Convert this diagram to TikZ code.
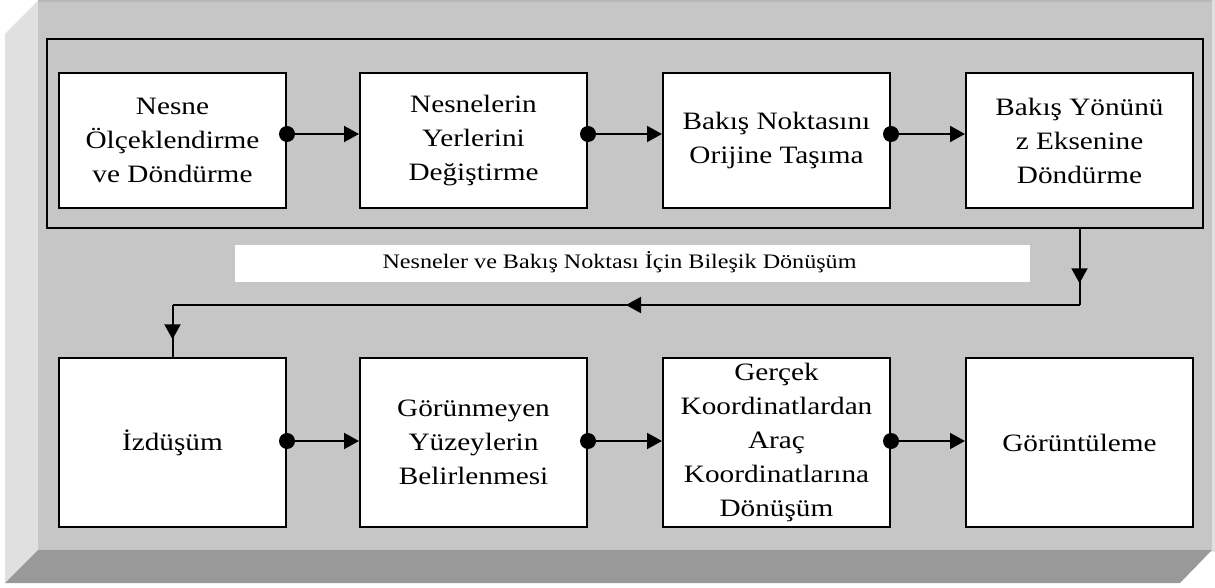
\documentclass[tikz,border=0pt]{standalone}
\usepackage{fontspec}
\setmainfont[FakeStretch=1.17]{Liberation Serif}
\usetikzlibrary{arrows.meta,decorations.markings}
\definecolor{frontgray}{RGB}{198,198,198}
\definecolor{sidegray}{RGB}{224,224,224}
\definecolor{bottomgray}{RGB}{153,153,153}
\definecolor{topedge}{RGB}{184,184,184}
\tikzset{
  stepbox/.style={draw, line width=1.5pt, fill=white, align=center, inner sep=0pt,
    font=\fontsize{18.75pt}{25.5pt}\selectfont},
  toprow/.style={stepbox, minimum width=170.25pt, minimum height=101.25pt},
  botrow/.style={stepbox, minimum width=170.25pt, minimum height=126.75pt},
  conn/.style={line width=1.5pt},
  arr/.style={conn, -{Triangle[length=11.25pt,width=12pt]}},
  dotc/.style={fill=black},
  midarrow/.style={conn, postaction={decorate}, decoration={markings,
    mark=at position #1 with {\arrow{Triangle[length=11.25pt,width=12pt]}}}}
}
\begin{document}
\begin{tikzpicture}[x=0.75pt,y=-0.75pt]
\useasboundingbox (0,0) rectangle (1215,588);
% bevelled frame
\fill[sidegray] (5,34) -- (38,1) -- (38,550) -- (5,583) -- cycle;
\fill[bottomgray] (5,583) -- (38,550) -- (1212,550) -- (1180,583) -- cycle;
\fill[frontgray] (38,0) rectangle (1212,550);
\fill[topedge] (38,0) rectangle (1212,2);
\fill[sidegray] (1212,0) rectangle (1215,552);
% group frame
\node (grp) [draw, line width=1.5pt, minimum width=867pt, minimum height=141.75pt, inner sep=0pt] at (625,133.5) {};
% top row
\node (b1) [toprow] at (172.5,140.5) {Nesne\\Ölçeklendirme\\ve Döndürme};
\node (b2) [toprow] at (473.5,140.5) {Nesnelerin\\Yerlerini\\Değiştirme};
\node (b3) [toprow] at (776.5,140.5) {Bakış Noktasını\\Orijine Taşıma};
\node (b4) [toprow] at (1079.5,140.5) {Bakış Yönünü\\z Eksenine\\Döndürme};
% bottom row
\node (b5) [botrow] at (172.5,442.5) {İzdüşüm};
\node (b6) [botrow] at (473.5,442.5) {Görünmeyen\\Yüzeylerin\\Belirlenmesi};
\node (b7) [botrow] at (776.5,442.5) {Gerçek\\Koordinatlardan\\Araç\\Koordinatlarına\\Dönüşüm};
\node (b8) [botrow] at (1079.5,442.5) {Görüntüleme};
% label band
\node (band) [fill=white, minimum width=596.25pt, minimum height=27.75pt, inner sep=0pt] at (632.5,263.5) {};
\node (lbl) [anchor=base, inner sep=0pt, font=\fontsize{15.45pt}{18pt}\selectfont] at (619.5,269) {Nesneler ve Bakış Noktası İçin Bileşik Dönüşüm};
% row levels
\coordinate (ytop) at (0,134);
\coordinate (ybot) at (0,441);
\coordinate (j1) at (1079.5,305);
\coordinate (j2) at (172.5,305);
% top row connectors
\foreach \a/\b in {b1/b2,b2/b3,b3/b4}{
  \draw[arr] (\a.east |- ytop) -- (\b.west |- ytop);
  \fill[dotc] (\a.east |- ytop) circle (6pt);
}
% bottom row connectors
\foreach \a/\b in {b5/b6,b6/b7,b7/b8}{
  \draw[arr] (\a.east |- ybot) -- (\b.west |- ybot);
  \fill[dotc] (\a.east |- ybot) circle (6pt);
}
% return path
\draw[midarrow=0.714] (grp.south -| b4) -- (j1);
\draw[midarrow=0.5] (j1) -- (j2);
\draw[midarrow=0.66] (j2) -- (b5.north);
\end{tikzpicture}
\end{document}
